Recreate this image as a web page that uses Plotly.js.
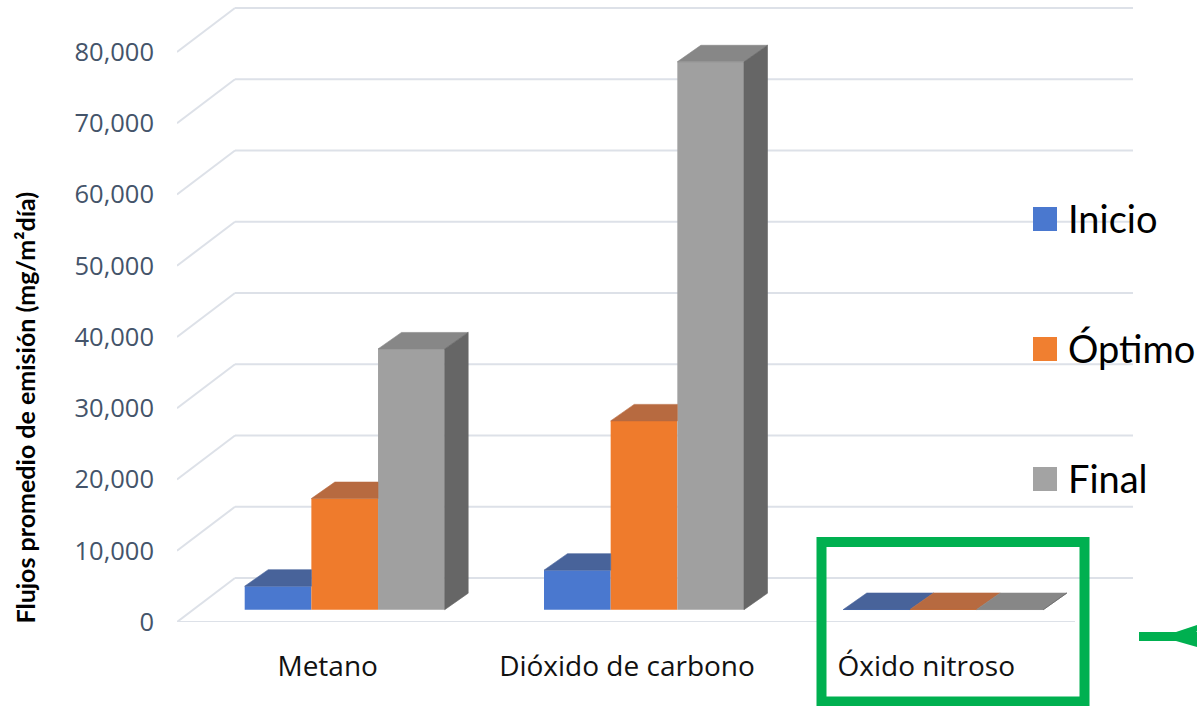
<!DOCTYPE html>
<html>
<head>
<meta charset="utf-8">
<script src="https://cdn.plot.ly/plotly-3.0.1.min.js"></script>
<style>html,body{margin:0;padding:0;background:#fff;}#chart{width:1197px;height:706px;}</style>
</head>
<body>
<div id="chart"></div>
<script>
// ---------------- data ----------------
const categories = ['Metano', 'Dióxido de carbono', 'Óxido nitroso'];
const seriesNames = ['Inicio', 'Óptimo', 'Final'];
const inicio = [3300, 5550, 25];
const optimo = [15600, 26500, 30];
const final = [36600, 76900, 20];
const yTicks = [0, 10000, 20000, 30000, 40000, 50000, 60000, 70000, 80000];
const yTitle = 'Flujos promedio de emisión (mg/m²día)';

// ---------------- styles ----------------
const faceColors = ['#4a78cf', '#ef7b2c', '#a0a0a0'];
const topColors = ['#48639a', '#b76a40', '#878787'];
const sideColors = ['#34508a', '#a5561f', '#666666'];
const legendColors = ['#4a78cf', '#f07f30', '#a3a3a3'];
const gridColor = '#dde1e8';

// ---------------- geometry (oblique 3D look) ----------------
const W = 1197, H = 706;
const M = {l: 177, r: 64, t: 0, b: 84};
const plotW = W - M.l - M.r, plotH = H - M.t - M.b;
const pxPerCat = 299.3;
const valPerPx = 10000 / 71.25;
const xRange = [-0.5603, 2.6338];
const yRange = [0, plotH * valPerPx];
const frontY = 12.3 * valPerPx;        // bar front plane lift
const depthX = 23.5 / pxPerCat, depthY = 16.5 * valPerPx;   // bar depth
const wallX = 58 / pxPerCat, wallY = 44 * valPerPx;         // floor depth
const groupW = 200 / pxPerCat;
const bargap = 1 - groupW;

const px2x = p => (p - M.l) / plotW;
const px2y = p => (M.t + plotH - p) / plotH;

const series = [inicio, optimo, final];
const nS = series.length;
const barW = groupW / nS;

const traces = [];
// front faces: real bar traces
series.forEach((vals, k) => {
  traces.push({
    type: 'bar', name: seriesNames[k], x: categories, y: vals,
    base: categories.map(() => frontY),
    marker: {color: faceColors[k], line: {width: 0}},
    xaxis: 'x', yaxis: 'y', showlegend: false,
    hovertemplate: '%{x}<br>' + seriesNames[k] + ': %{y:,}<extra></extra>'
  });
});
// top and side faces
function poly(xs, ys, color) {
  traces.push({
    type: 'scatter', mode: 'lines', x: xs.concat([xs[0]]), y: ys.concat([ys[0]]),
    fill: 'toself', fillcolor: color, line: {color: color, width: 0.6},
    xaxis: 'x2', yaxis: 'y', showlegend: false, hoverinfo: 'skip'
  });
}
categories.forEach((c, i) => {
  series.forEach((vals, k) => {
    const v = vals[i];
    const xl = i - groupW / 2 + k * barW, xr = xl + barW;
    const b = frontY, t = frontY + v;
    const next = k < nS - 1 ? series[k + 1][i] : null;
    // top face
    if (next !== null && next >= v + depthY) {
      poly([xl, xr, xr, xl + depthX], [t, t, t + depthY, t + depthY], topColors[k]);
    } else {
      poly([xl, xr, xr + depthX, xl + depthX], [t, t, t + depthY, t + depthY], topColors[k]);
    }
    // side face
    if (next === null) {
      poly([xr, xr, xr + depthX, xr + depthX], [b, t, t + depthY, b + depthY], sideColors[k]);
    } else if (next < v - depthY) {
      const lo = b + next;
      poly([xr, xr, xr + depthX, xr + depthX], [lo, t, t + depthY, lo], sideColors[k]);
    }
  });
});

// ---------------- walls / gridlines ----------------
const shapes = [];
yTicks.forEach(v => {
  shapes.push({type: 'line', xref: 'x2', yref: 'y', x0: xRange[0] + wallX, x1: xRange[1],
    y0: v + wallY, y1: v + wallY, line: {color: gridColor, width: 2}, layer: 'below'});
  shapes.push({type: 'line', xref: 'x2', yref: 'y', x0: xRange[0], x1: xRange[0] + wallX,
    y0: v, y1: v + wallY, line: {color: gridColor, width: 2}, layer: 'below'});
});
shapes.push({type: 'line', xref: 'x2', yref: 'y', x0: xRange[0], x1: xRange[1] - wallX,
  y0: 0, y1: 0, line: {color: gridColor, width: 2}, layer: 'below'});

// legend (custom, large squares)
const annotations = [];
const legTop = 219, legStep = 130;
seriesNames.forEach((n, k) => {
  const cy = legTop + k * legStep;
  shapes.push({type: 'rect', xref: 'paper', yref: 'paper',
    x0: px2x(1033), x1: px2x(1057), y0: px2y(cy - 12), y1: px2y(cy + 12),
    fillcolor: legendColors[k], line: {width: 0}});
  annotations.push({text: n, xref: 'paper', yref: 'paper', x: px2x(1066), y: px2y(cy - 1),
    xanchor: 'left', yanchor: 'middle', showarrow: false,
    font: {family: 'Lato, Roboto, sans-serif', size: 38, color: '#000'}});
});

// green highlight box + arrow
shapes.push({type: 'rect', xref: 'paper', yref: 'paper',
  x0: px2x(821.5), x1: px2x(1084.5), y0: px2y(542), y1: px2y(701.5),
  line: {color: '#00b050', width: 10}, fillcolor: 'rgba(0,0,0,0)'});
shapes.push({type: 'line', xref: 'paper', yref: 'paper',
  x0: px2x(1139), x1: px2x(1197), y0: px2y(636.5), y1: px2y(636.5),
  line: {color: '#00b050', width: 9}});
const ap = [[1176, 632], [1197, 625], [1197, 631], [1192, 637], [1197, 641], [1197, 647], [1176, 641]];
shapes.push({type: 'path', xref: 'paper', yref: 'paper',
  path: 'M' + ap.map(p => px2x(p[0]) + ',' + px2y(p[1])).join('L') + 'Z',
  fillcolor: '#00b050', line: {width: 0}});

// y axis title
annotations.push({text: '<b>' + yTitle + '</b>', xref: 'paper', yref: 'paper',
  x: px2x(24.5), y: px2y(408), textangle: -90, xanchor: 'center', yanchor: 'middle',
  showarrow: false, font: {family: 'Lato, sans-serif', size: 25, color: '#000'}});

const layout = {
  width: W, height: H, margin: M,
  paper_bgcolor: '#ffffff', plot_bgcolor: 'rgba(0,0,0,0)',
  barmode: 'group', bargap: bargap, bargroupgap: 0,
  showlegend: false,
  xaxis: {type: 'category', range: xRange, showgrid: false, zeroline: false, showline: false,
    ticks: '', tickfont: {family: 'Open Sans, sans-serif', size: 28, color: '#111'},
    ticklabelshift: -17, ticklabelstandoff: 25, fixedrange: true},
  xaxis2: {overlaying: 'x', type: 'linear', range: xRange, visible: false, fixedrange: true},
  yaxis: {range: yRange, tickvals: yTicks, tickformat: ',d', showgrid: false, zeroline: false,
    showline: false, ticks: '', ticklabelstandoff: 22,
    tickfont: {family: 'Open Sans, sans-serif', size: 25.5, color: '#44546a'}, fixedrange: true},
  shapes: shapes, annotations: annotations
};

Plotly.newPlot('chart', traces, layout, {displayModeBar: false, staticPlot: false});
</script>
</body>
</html>
